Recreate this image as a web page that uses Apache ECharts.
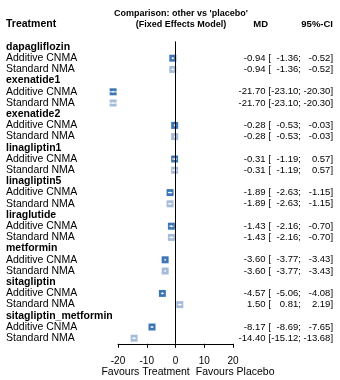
<!DOCTYPE html>
<html>
<head>
<meta charset="utf-8">
<script src="https://cdn.jsdelivr.net/npm/echarts@6/dist/echarts.min.js"></script>
<style>
  html, body { margin: 0; padding: 0; background: #fff; }
  #chart { width: 340px; height: 380px; }
</style>
</head>
<body>
<div id="chart"></div>
<script>
// Treatments compared against placebo
const treatments = ['dapagliflozin', 'exenatide1', 'exenatide2', 'linagliptin1', 'linagliptin5',
  'liraglutide', 'metformin', 'sitagliptin', 'sitagliptin_metformin'];
const methods = ['Additive CNMA', 'Standard NMA'];

// Mean differences and 95% confidence limits, additive component NMA
const additiveMD    = [-0.94, -21.70, -0.28, -0.31, -1.89, -1.43, -3.60, -4.57, -8.17];
const additiveLower = [-1.36, -23.10, -0.53, -1.19, -2.63, -2.16, -3.77, -5.06, -8.69];
const additiveUpper = [-0.52, -20.30, -0.03,  0.57, -1.15, -0.70, -3.43, -4.08, -7.65];

// Mean differences and 95% confidence limits, standard NMA
const standardMD    = [-0.94, -21.70, -0.28, -0.31, -1.89, -1.43, -3.60,  1.50, -14.40];
const standardLower = [-1.36, -23.10, -0.53, -1.19, -2.63, -2.16, -3.77,  0.81, -15.12];
const standardUpper = [-0.52, -20.30, -0.03,  0.57, -1.15, -0.70, -3.43,  2.19, -13.68];

const xTicks = [-20, -10, 0, 10, 20];

const FONT = '"Liberation Sans", Arial, sans-serif';
const FS = 10;      // axis tick labels
const FS_L = 10.5;  // row labels and direction labels
const FS_R = 9.5;   // estimate and interval columns
const colAdd = '#3d77b3';
const colStd = '#a6bcd8';

// Build rows: group heading followed by one row per method
const rows = [];
treatments.forEach((t, i) => {
  rows.push({ type: 'head', label: t });
  rows.push({ type: 'est', label: methods[0], md: additiveMD[i], lo: additiveLower[i], up: additiveUpper[i], color: colAdd });
  rows.push({ type: 'est', label: methods[1], md: standardMD[i], lo: standardLower[i], up: standardUpper[i], color: colStd });
});
const cats = rows.map((r, i) => String(i));

const fmt = v => v.toFixed(2);

const pointData = [];
rows.forEach((r, i) => {
  if (r.type === 'est') {
    pointData.push({ value: [r.md, cats[i], r.lo, r.up], itemStyle: { color: r.color } });
  }
});

// Text column anchors (pixel x) for the estimate table on the right
const COL = { md: 265.5, open: 268.6, lo: 298.2, up: 330.4 };

const chart = echarts.init(document.getElementById('chart'), null, { renderer: 'canvas' });

const gridLeft = 118, gridRight = 107;
const gridTop = 41.4, gridBottom = 380 - 343.8;
const txt = (size, extra) => Object.assign({ fontSize: size, color: '#000', fontFamily: FONT }, extra || {});
const cell = (text, x, y, align) => ({
  type: 'text',
  style: { text, x, y, textAlign: align, textVerticalAlign: 'middle',
    font: FS_R + 'px ' + FONT, fill: '#000' }
});

const headers = [
  { type: 'text', x: 6, y: 19, style: { text: 'Treatment', font: 'bold ' + FS_L + 'px ' + FONT, fill: '#000' } },
  { type: 'text', x: 268, y: 19, style: { text: 'MD', font: 'bold 9.5px ' + FONT, fill: '#000', textAlign: 'right' } },
  { type: 'text', x: 333, y: 19, style: { text: '95%-CI', font: 'bold 9.5px ' + FONT, fill: '#000', textAlign: 'right' } }
];

chart.setOption({
  animation: false,
  textStyle: { fontFamily: FONT },
  title: {
    text: "Comparison: other vs 'placebo'\n(Fixed Effects Model)",
    left: 176, top: 3, textAlign: 'center',
    textStyle: { fontFamily: FONT, fontSize: 9, fontWeight: 'bold', color: '#000', lineHeight: 11 }
  },
  grid: { left: gridLeft, right: gridRight, top: gridTop, bottom: gridBottom, containLabel: false },
  xAxis: {
    type: 'value', min: -20, max: 20, interval: 10,
    axisLine: { show: true, lineStyle: { color: '#000', width: 1 } },
    axisTick: { show: true, length: 4, lineStyle: { color: '#000' } },
    splitLine: { show: false },
    axisLabel: { margin: 12, fontSize: FS, color: '#000', fontFamily: FONT,
      formatter: v => (xTicks.indexOf(v) >= 0 ? String(v) : '') }
  },
  yAxis: {
    type: 'category', data: cats, inverse: true,
    axisLine: { show: false }, axisTick: { show: false }, splitLine: { show: false },
    axisLabel: {
      align: 'left', margin: gridLeft - 6, interval: 0,
      formatter: v => {
        const r = rows[+v];
        return r.type === 'head' ? '{h|' + r.label + '}' : '{n|' + r.label + '}';
      },
      rich: { h: txt(FS_L, { fontWeight: 'bold' }), n: txt(FS_L) }
    }
  },
  graphic: headers,
  series: [
    {
      // point estimate squares with the confidence interval drawn across them
      type: 'custom',
      clip: false,
      data: pointData,
      encode: { x: 0, y: 1 },
      renderItem: (params, api) => {
        const c = api.coord([api.value(0), api.value(1)]);
        const lo = api.coord([api.value(2), api.value(1)]);
        const up = api.coord([api.value(3), api.value(1)]);
        const s = 7;
        const color = api.visual('color');
        return {
          type: 'group',
          children: [
            { type: 'rect', shape: { x: c[0] - s / 2, y: c[1] - s / 2, width: s, height: s },
              style: { fill: color } },
            { type: 'line', shape: { x1: lo[0], y1: c[1], x2: up[0], y2: c[1] },
              style: { stroke: '#fff', lineWidth: 1 } },
            { type: 'line', shape: { x1: c[0], y1: c[1] - 1, x2: c[0], y2: c[1] + 1 },
              style: { stroke: '#fff', lineWidth: 1 } }
          ]
        };
      },
      markLine: {
        silent: true, symbol: 'none', label: { show: false },
        lineStyle: { color: '#000', width: 1, type: 'solid' },
        data: [{ xAxis: 0 }]
      },
      z: 3
    },
    {
      // estimate table: MD and [lower; upper] for every row
      type: 'custom',
      clip: false,
      silent: true,
      data: pointData.map(d => d.value),
      encode: { x: 0, y: 1 },
      renderItem: (params, api) => {
        const y = api.coord([0, api.value(1)])[1];
        return {
          type: 'group',
          children: [
            cell(fmt(api.value(0)), COL.md, y, 'right'),
            cell('[', COL.open, y, 'left'),
            cell(fmt(api.value(2)), COL.lo, y, 'right'),
            cell(';', COL.lo, y, 'left'),
            cell(fmt(api.value(3)), COL.up, y, 'right'),
            cell(']', COL.up, y, 'left')
          ]
        };
      }
    }
  ]
});

// Direction labels beneath the axis, either side of a split point right of zero
const p0 = chart.convertToPixel({ gridIndex: 0 }, [6, 0]);
chart.setOption({
  graphic: headers.concat([
    { type: 'text', x: p0[0] - 3, y: 367, style: { text: 'Favours Treatment', font: FS_L + 'px ' + FONT, fill: '#000', textAlign: 'right' } },
    { type: 'text', x: p0[0] + 3, y: 367, style: { text: 'Favours Placebo', font: FS_L + 'px ' + FONT, fill: '#000', textAlign: 'left' } }
  ])
}, { replaceMerge: ['graphic'] });
</script>
</body>
</html>
